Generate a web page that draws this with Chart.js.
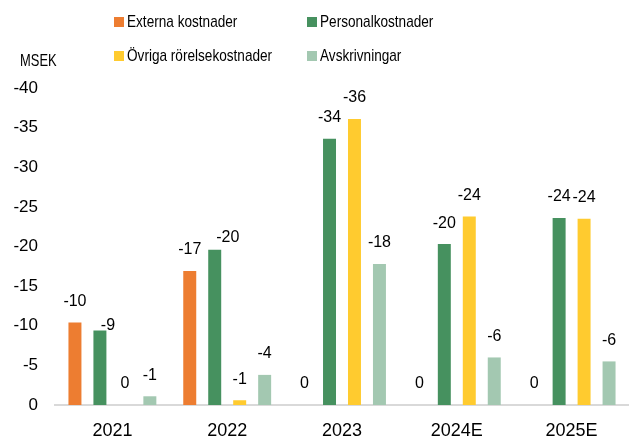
<!DOCTYPE html>
<html>
<head>
<meta charset="utf-8">
<script src="https://cdn.jsdelivr.net/npm/chart.js@4/dist/chart.umd.min.js"></script>
<style>
  body { margin: 0; background: #fff; }
  #wrap { position: relative; width: 629px; height: 438px; font-family: "Liberation Sans", Arial, sans-serif; color: #000; }
  #legend { position: absolute; left: 114px; top: 11px; display: grid; grid-template-columns: 193px 200px; row-gap: 13px; font-size: 17px; }
  #legend div { display: flex; align-items: center; height: 21px; white-space: nowrap; }
  #legend span.box { display: inline-block; width: 10px; height: 10px; margin-right: 3px; flex: none; }
  /* the original uses a narrow font, squeeze the text to the same width */
  #legend span.txt { display: inline-block; transform: scaleX(0.8); transform-origin: left center; }
  #unit { position: absolute; left: 20px; top: 51px; font-size: 17px; transform: scaleX(0.76); transform-origin: left center; }
  canvas { position: absolute; left: 0; top: 0; }
</style>
</head>
<body>
<div id="wrap">
  <canvas id="kostnader" width="629" height="438"></canvas>
  <div id="legend"></div>
  <div id="unit">MSEK</div>
</div>
<script>
const years = ['2021', '2022', '2023', '2024E', '2025E'];
const externa = [-10.4, -16.9, 0, 0, 0];
const personal = [-9.4, -19.6, -33.6, -20.3, -23.6];
const ovriga = [0, -0.6, -36.1, -23.8, -23.5];
const avskrivningar = [-1.1, -3.8, -17.8, -6.0, -5.5];
const yTicks = [0, -5, -10, -15, -20, -25, -30, -35, -40];

const seriesNames = ['Externa kostnader', 'Personalkostnader', 'Övriga rörelsekostnader', 'Avskrivningar'];
const colors = ['#ED7D31', '#46915F', '#FFCB2F', '#A3C8B1'];
const FONT = '"Liberation Sans", Arial, sans-serif';

// legend in two columns like the original
const legend = document.getElementById('legend');
[0, 1, 2, 3].forEach(function (i) {
  const item = document.createElement('div');
  item.innerHTML = '<span class="box" style="background:' + colors[i] + '"></span><span class="txt">' + seriesNames[i] + '</span>';
  legend.appendChild(item);
});

// a couple of labels were moved by hand in the original
const labelNudge = { '1-0': [8, 16], '1-1': [13, 9] };

const valueLabels = {
  id: 'valueLabels',
  afterDatasetsDraw(chart) {
    const ctx = chart.ctx;
    ctx.save();
    ctx.font = '16px ' + FONT;
    ctx.fillStyle = '#000';
    ctx.textAlign = 'center';
    ctx.textBaseline = 'middle';
    chart.data.datasets.forEach(function (ds, di) {
      const meta = chart.getDatasetMeta(di);
      meta.data.forEach(function (bar, i) {
        const v = ds.data[i];
        const txt = v < 0 ? '-' + Math.round(Math.abs(v)) : '0';
        const n = labelNudge[di + '-' + i] || [0, 0];
        ctx.fillText(txt, bar.x + n[0], bar.y - 21 + n[1]);
      });
    });
    ctx.restore();
  }
};

const ctx = document.getElementById('kostnader').getContext('2d');
const chart = new Chart(ctx, {
  type: 'bar',
  data: {
    labels: years,
    datasets: [
      { label: seriesNames[0], data: externa, backgroundColor: colors[0] },
      { label: seriesNames[1], data: personal, backgroundColor: colors[1] },
      { label: seriesNames[2], data: ovriga, backgroundColor: colors[2] },
      { label: seriesNames[3], data: avskrivningar, backgroundColor: colors[3] }
    ]
  },
  options: {
    responsive: false,
    animation: false,
    categoryPercentage: 0.87,
    barPercentage: 0.52,
    layout: { padding: { top: 88, right: 0, left: 0, bottom: 0 } },
    plugins: {
      legend: { display: false },
      tooltip: { enabled: false }
    },
    scales: {
      x: {
        afterFit: function (scale) { scale.height = 33; },
        grid: { display: false, drawTicks: false },
        border: { display: true, color: '#D9D9D9', width: 2 },
        ticks: { color: '#000', font: { family: FONT, size: 18 }, padding: 15 }
      },
      y: {
        reverse: true,
        min: -40,
        max: 0,
        afterBuildTicks: function (scale) {
          scale.ticks = yTicks.map(function (v) { return { value: v }; });
        },
        afterFit: function (scale) { scale.width = 55; },
        grid: { display: false, drawTicks: false },
        border: { display: false },
        ticks: { color: '#000', font: { family: FONT, size: 17 }, padding: 17 }
      }
    }
  },
  plugins: [valueLabels]
});
</script>
</body>
</html>
